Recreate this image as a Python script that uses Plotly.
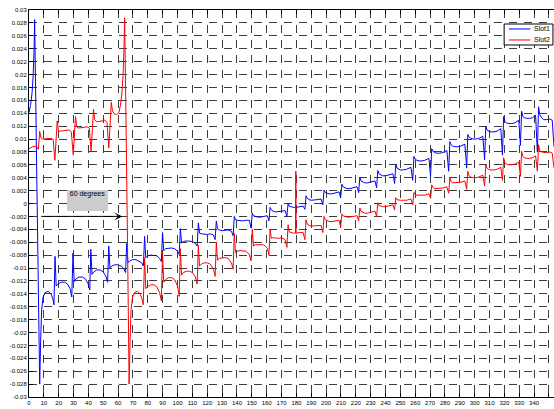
import plotly.graph_objects as go

# ---------------- data ----------------
# Slot1 (blue)
slot1_x = [
    0.0, 1.0, 2.0, 2.8, 3.4, 3.8, 5.5, 7.2, 7.8, 8.5, 9.5, 11.0, 13.0, 15.0, 16.2, 16.8,
    17.5, 18.3, 19.5, 21.5, 24.0, 26.0, 27.6, 28.8,
    29.6, 30.4, 31.6, 33.6, 36.0, 38.0, 39.7, 40.9,
    41.6, 42.4, 43.6, 45.6, 48.0, 50.0, 51.8, 52.9,
    53.7, 54.5, 55.7, 57.7, 60.0, 62.0, 63.8, 65.0,
    65.8, 66.6, 67.8, 69.8, 72.0, 74.0, 75.9, 77.0,
    77.8, 78.6, 79.8, 81.8, 84.0, 86.0, 87.9, 89.1,
    89.9, 90.7, 91.9, 93.9, 96.0, 98.0, 100.0, 101.1,
    101.9, 102.7, 103.9, 106.0, 108.0, 110.0, 112.0, 113.2,
    114.0, 114.8, 116.0, 118.0, 120.0, 122.0, 124.2, 125.3,
    126.1, 126.9, 128.1, 130.0, 132.0, 134.0, 136.3, 137.4,
    138.2, 139.0, 140.2, 142.0, 144.0, 146.0, 148.3, 149.5,
    150.3, 151.1, 152.3, 154.0, 156.0, 158.0, 160.4, 161.5,
    162.3, 163.1, 164.3, 166.0, 168.0, 170.0, 172.4, 173.6,
    174.4, 175.2, 176.4, 178.0, 180.0, 182.0, 184.5, 185.7,
    186.5, 187.3, 188.5, 190.0, 192.0, 194.0, 196.6, 197.8,
    198.6, 199.4, 200.6, 202.0, 204.0, 206.0, 208.7, 209.8,
    210.6, 211.4, 212.6, 214.0, 216.0, 218.0, 220.8, 221.9,
    222.7, 223.5, 224.7, 226.0, 228.0, 230.0, 232.9, 234.0,
    234.8, 235.6, 236.8, 238.0, 240.0, 242.0, 245.0, 246.1,
    246.9, 247.7, 248.9, 250.0, 252.0, 254.0, 257.1, 258.3,
    259.1, 259.9, 261.1, 262.5, 264.5, 266.5, 269.2, 270.3,
    271.1, 271.9, 273.1, 274.5, 276.5, 278.5, 281.3, 282.5,
    283.3, 284.1, 285.3, 286.7, 288.7, 290.7, 293.4, 294.6,
    295.4, 296.2, 297.4, 298.8, 300.8, 302.8, 305.5, 306.7,
    307.5, 308.3, 309.5, 311.0, 313.0, 315.0, 317.6, 318.7,
    319.5, 320.3, 321.5, 323.0, 325.0, 327.0, 329.7, 330.8,
    331.6, 332.4, 333.6, 335.0, 337.0, 339.0, 341.0, 342.2,
    343.0, 343.8, 345.0, 346.5, 348.5, 350.5, 352.2, 353.4,
]
slot1_y = [
    0.0141, 0.0152, 0.0170, 0.0198, 0.0238, 0.0285, 0.0000, -0.0280, -0.0215, -0.0165, -0.0145, -0.0138, -0.0136, -0.0141, -0.0149, -0.0157,
    -0.0082, -0.0128, -0.0125, -0.0122, -0.0122, -0.0125, -0.0132, -0.0145,
    -0.0077, -0.0121, -0.0117, -0.0114, -0.0114, -0.0117, -0.0124, -0.0134,
    -0.0071, -0.0110, -0.0106, -0.0103, -0.0103, -0.0106, -0.0113, -0.0122,
    -0.0066, -0.0100, -0.0097, -0.0095, -0.0095, -0.0097, -0.0101, -0.0107,
    -0.0062, -0.0092, -0.0089, -0.0087, -0.0087, -0.0089, -0.0092, -0.0097,
    -0.0051, -0.0084, -0.0081, -0.0080, -0.0080, -0.0081, -0.0085, -0.0090,
    -0.0045, -0.0073, -0.0070, -0.0069, -0.0069, -0.0070, -0.0074, -0.0079,
    -0.0039, -0.0061, -0.0059, -0.0058, -0.0058, -0.0059, -0.0062, -0.0066,
    -0.0030, -0.0046, -0.0047, -0.0048, -0.0048, -0.0047, -0.0049, -0.0056,
    -0.0027, -0.0039, -0.0041, -0.0042, -0.0042, -0.0041, -0.0043, -0.0050,
    -0.0020, -0.0025, -0.0026, -0.0027, -0.0027, -0.0026, -0.0026, -0.0038,
    -0.0015, -0.0019, -0.0020, -0.0021, -0.0021, -0.0020, -0.0019, -0.0027,
    -0.0006, -0.0010, -0.0012, -0.0013, -0.0013, -0.0012, -0.0011, -0.0020,
    0.0000, -0.0004, -0.0005, -0.0006, -0.0006, -0.0005, -0.0004, -0.0009,
    0.0012, 0.0008, 0.0006, 0.0005, 0.0005, 0.0006, 0.0007, -0.0002,
    0.0021, 0.0017, 0.0016, 0.0015, 0.0015, 0.0016, 0.0018, 0.0009,
    0.0030, 0.0026, 0.0024, 0.0023, 0.0023, 0.0024, 0.0026, 0.0017,
    0.0041, 0.0035, 0.0033, 0.0032, 0.0032, 0.0033, 0.0035, 0.0024,
    0.0051, 0.0046, 0.0044, 0.0043, 0.0043, 0.0044, 0.0046, 0.0031,
    0.0061, 0.0055, 0.0053, 0.0052, 0.0052, 0.0053, 0.0056, 0.0036,
    0.0073, 0.0069, 0.0067, 0.0066, 0.0066, 0.0067, 0.0070, 0.0042,
    0.0085, 0.0081, 0.0079, 0.0078, 0.0078, 0.0079, 0.0082, 0.0050,
    0.0096, 0.0091, 0.0089, 0.0088, 0.0088, 0.0089, 0.0092, 0.0055,
    0.0107, 0.0103, 0.0101, 0.0100, 0.0100, 0.0101, 0.0104, 0.0068,
    0.0120, 0.0114, 0.0112, 0.0111, 0.0111, 0.0112, 0.0116, 0.0075,
    0.0135, 0.0127, 0.0125, 0.0124, 0.0124, 0.0125, 0.0129, 0.0090,
    0.0143, 0.0135, 0.0133, 0.0132, 0.0132, 0.0133, 0.0137, 0.0080,
    0.0150, 0.0138, 0.0133, 0.0130, 0.0130, 0.0131, 0.0129, 0.0088,
]

# Slot2 (red)
slot2_x = [
    0.0, 2.5, 5.0, 6.3,
    7.2, 8.0, 9.2, 11.0, 13.0, 15.0, 16.3, 17.4,
    19.0, 19.8, 21.0, 23.0, 25.0, 27.0, 28.5, 29.8,
    31.3, 32.1, 33.3, 35.0, 37.0, 39.0, 40.6, 41.8,
    43.4, 44.2, 45.4, 47.0, 49.0, 51.0, 52.5, 53.7,
    55.4, 56.2, 57.5, 59.0, 60.5, 61.5, 62.5, 63.3, 63.9, 64.4,
    66.0, 67.4, 68.0, 68.7, 69.7, 71.0, 73.0, 75.0, 76.2, 76.9,
    77.8, 78.6, 79.8, 81.8, 84.0, 86.0, 87.9, 89.1,
    89.9, 90.7, 91.9, 93.9, 96.0, 98.0, 100.0, 101.1,
    101.9, 102.7, 103.9, 106.0, 108.0, 110.0, 112.0, 113.2,
    114.0, 114.8, 116.0, 118.0, 120.0, 122.0, 124.2, 125.3,
    126.1, 126.9, 128.1, 130.0, 132.0, 134.0, 136.3, 137.4,
    138.2, 139.0, 140.2, 142.0, 144.0, 146.0, 148.3, 149.5,
    150.3, 151.1, 152.3, 154.0, 156.0, 158.0, 160.4, 161.5,
    162.3, 163.1, 164.3, 166.0, 168.0, 170.0, 172.4, 173.6,
    174.4, 175.2, 176.4, 178.0, 179.4, 179.6, 179.8, 182.0, 184.5, 185.7,
    186.5, 187.3, 188.5, 190.0, 192.0, 194.0, 196.6, 197.8,
    198.6, 199.4, 200.6, 202.0, 204.0, 206.0, 208.7, 209.8,
    210.6, 211.4, 212.6, 214.0, 216.0, 218.0, 220.8, 221.9,
    222.7, 223.5, 224.7, 226.0, 228.0, 230.0, 232.9, 234.0,
    234.8, 235.6, 236.8, 238.0, 240.0, 242.0, 245.0, 246.1,
    246.9, 247.7, 248.9, 250.0, 252.0, 254.0, 257.1, 258.3,
    259.1, 259.9, 261.1, 262.5, 264.5, 266.5, 269.2, 270.3,
    271.1, 271.9, 273.1, 274.5, 276.5, 278.5, 281.3, 282.5,
    283.3, 284.1, 285.3, 286.7, 288.7, 290.7, 293.4, 294.6,
    295.4, 296.2, 297.4, 298.8, 300.8, 302.8, 305.5, 306.7,
    307.5, 308.3, 309.5, 311.0, 313.0, 315.0, 317.6, 318.7,
    319.5, 320.3, 321.5, 323.0, 325.0, 327.0, 329.7, 330.8,
    331.6, 332.4, 333.6, 335.0, 337.0, 339.0, 341.0, 342.2,
    343.0, 343.8, 345.0, 346.5, 348.5, 350.5, 352.2, 353.4,
]
slot2_y = [
    0.0085, 0.0088, 0.0089, 0.0084,
    0.0112, 0.0102, 0.0100, 0.0100, 0.0101, 0.0101, 0.0099, 0.0067,
    0.0128, 0.0113, 0.0112, 0.0113, 0.0114, 0.0114, 0.0111, 0.0075,
    0.0135, 0.0119, 0.0117, 0.0117, 0.0118, 0.0119, 0.0117, 0.0081,
    0.0146, 0.0130, 0.0127, 0.0127, 0.0128, 0.0129, 0.0126, 0.0086,
    0.0157, 0.0143, 0.0139, 0.0138, 0.0141, 0.0152, 0.0170, 0.0198, 0.0238, 0.0288,
    0.0000, -0.0280, -0.0215, -0.0165, -0.0145, -0.0138, -0.0136, -0.0141, -0.0149, -0.0157,
    -0.0084, -0.0132, -0.0129, -0.0126, -0.0126, -0.0129, -0.0138, -0.0151,
    -0.0076, -0.0122, -0.0118, -0.0115, -0.0115, -0.0118, -0.0128, -0.0144,
    -0.0070, -0.0111, -0.0107, -0.0105, -0.0105, -0.0107, -0.0114, -0.0125,
    -0.0065, -0.0097, -0.0094, -0.0092, -0.0092, -0.0094, -0.0102, -0.0113,
    -0.0060, -0.0088, -0.0085, -0.0084, -0.0084, -0.0085, -0.0092, -0.0102,
    -0.0046, -0.0076, -0.0074, -0.0073, -0.0073, -0.0074, -0.0079, -0.0089,
    -0.0040, -0.0066, -0.0064, -0.0064, -0.0064, -0.0064, -0.0069, -0.0080,
    -0.0040, -0.0054, -0.0053, -0.0054, -0.0054, -0.0053, -0.0056, -0.0068,
    -0.0033, -0.0044, -0.0045, -0.0046, -0.0046, 0.0050, -0.0046, -0.0045, -0.0045, -0.0056,
    -0.0025, -0.0032, -0.0034, -0.0035, -0.0035, -0.0034, -0.0034, -0.0045,
    -0.0020, -0.0025, -0.0027, -0.0028, -0.0028, -0.0027, -0.0026, -0.0036,
    -0.0016, -0.0019, -0.0020, -0.0021, -0.0021, -0.0020, -0.0019, -0.0027,
    -0.0007, -0.0012, -0.0014, -0.0015, -0.0015, -0.0014, -0.0012, -0.0020,
    0.0001, -0.0003, -0.0004, -0.0005, -0.0005, -0.0004, -0.0002, -0.0010,
    0.0009, 0.0006, 0.0005, 0.0005, 0.0005, 0.0005, 0.0007, -0.0002,
    0.0017, 0.0014, 0.0013, 0.0013, 0.0013, 0.0013, 0.0015, 0.0008,
    0.0029, 0.0025, 0.0023, 0.0023, 0.0023, 0.0024, 0.0026, 0.0016,
    0.0040, 0.0034, 0.0032, 0.0032, 0.0032, 0.0033, 0.0035, 0.0022,
    0.0050, 0.0043, 0.0041, 0.0040, 0.0040, 0.0041, 0.0044, 0.0027,
    0.0060, 0.0055, 0.0053, 0.0052, 0.0052, 0.0053, 0.0056, 0.0036,
    0.0071, 0.0063, 0.0061, 0.0060, 0.0060, 0.0061, 0.0064, 0.0042,
    0.0081, 0.0073, 0.0071, 0.0070, 0.0070, 0.0071, 0.0074, 0.0050,
    0.0091, 0.0082, 0.0080, 0.0079, 0.0079, 0.0080, 0.0078, 0.0055,
]

series_names = ["Slot1", "Slot2"]
series_colors = ["#0000ff", "#ff0000"]

x_tick_vals = [0, 10, 20, 30, 40, 50, 60, 70, 80, 90, 100, 110, 120, 130, 140, 150, 160, 170,
               180, 190, 200, 210, 220, 230, 240, 250, 260, 270, 280, 290, 300, 310, 320, 330, 340, 350]
y_tick_text = ["0.03", "0.028", "0.026", "0.024", "0.022", "0.02", "0.018", "0.016", "0.014", "0.012",
               "0.01", "0.008", "0.006", "0.004", "0.002", "0", "-0.002", "-0.004", "-0.006", "-0.008",
               "-0.01", "-0.012", "-0.014", "-0.016", "-0.018", "-0.02", "-0.022", "-0.024", "-0.026",
               "-0.028", "-0.03"]
y_tick_vals = [float(t) for t in y_tick_text]

annotation_text = "60 degrees"
arrow_start = (7.3, -0.002)
arrow_end = (62.8, -0.002)

assert len(slot1_x) == len(slot1_y)
assert len(slot2_x) == len(slot2_y)

FONT = "Liberation Sans, Arial, Helvetica, sans-serif"

fig = go.Figure()
for xs, ys, name, col in [(slot1_x, slot1_y, series_names[0], series_colors[0]),
                          (slot2_x, slot2_y, series_names[1], series_colors[1])]:
    fig.add_trace(go.Scatter(x=xs, y=ys, mode="lines", name=name,
                             line=dict(color=col, width=1), showlegend=False,
                             hoverinfo="skip"))

grid_dash = "8px,7px"
fig.update_layout(
    width=554, height=409,
    margin=dict(l=29, r=0, t=10, b=12, pad=0),
    paper_bgcolor="white", plot_bgcolor="white",
    font=dict(family=FONT, size=6, color="black"),
    xaxis=dict(range=[0, 353.4], tickmode="array", tickvals=x_tick_vals,
               ticktext=[str(v) for v in x_tick_vals],
               ticks="inside", ticklen=4, tickwidth=1, tickcolor="black",
               showline=True, linecolor="black", linewidth=1, mirror="ticks",
               showgrid=True, gridcolor="#3c3c3c", gridwidth=1, griddash=grid_dash,
               zeroline=False, tickfont=dict(size=6, family=FONT, color="black")),
    yaxis=dict(range=[-0.03, 0.03], tickmode="array", tickvals=y_tick_vals,
               ticktext=y_tick_text,
               ticks="inside", ticklen=4, tickwidth=1, tickcolor="black",
               showline=True, linecolor="black", linewidth=1, mirror=False,
               showgrid=True, gridcolor="#3c3c3c", gridwidth=1, griddash=grid_dash,
               zeroline=False, tickfont=dict(size=6, family=FONT, color="black")),
)

# legend box (MATLAB style)
lx0, lx1, ly0, ly1 = 0.905, 0.998, 0.9096, 0.9638
fig.add_shape(type="rect", xref="paper", yref="paper", x0=lx0, x1=lx1, y0=ly0, y1=ly1,
              line=dict(color="black", width=1), fillcolor="white", layer="above")
for i, (name, col) in enumerate(zip(series_names, series_colors)):
    yy = 0.951 - i * 0.0285
    fig.add_shape(type="line", xref="paper", yref="paper", x0=0.914, x1=0.955, y0=yy, y1=yy,
                  line=dict(color=col, width=1), layer="above")
    fig.add_annotation(xref="paper", yref="paper", x=0.959, y=yy, text=name, showarrow=False,
                       xanchor="left", yanchor="middle", font=dict(size=7, family=FONT, color="black"))

# "60 degrees" text box and arrow
fig.add_annotation(x=39.6, y=0.00039, xref="x", yref="y", text=annotation_text, showarrow=False,
                   width=41, height=21, valign="top", align="center", bgcolor="#cccccc",
                   borderpad=0, borderwidth=0, font=dict(size=7, family=FONT, color="black"))
fig.add_annotation(x=arrow_end[0], y=arrow_end[1], ax=arrow_start[0], ay=arrow_start[1],
                   xref="x", yref="y", axref="x", ayref="y", text="", showarrow=True,
                   arrowhead=3, arrowsize=1.4, arrowwidth=1, arrowcolor="black")

fig.write_html("out.html", config={"displayModeBar": False})
